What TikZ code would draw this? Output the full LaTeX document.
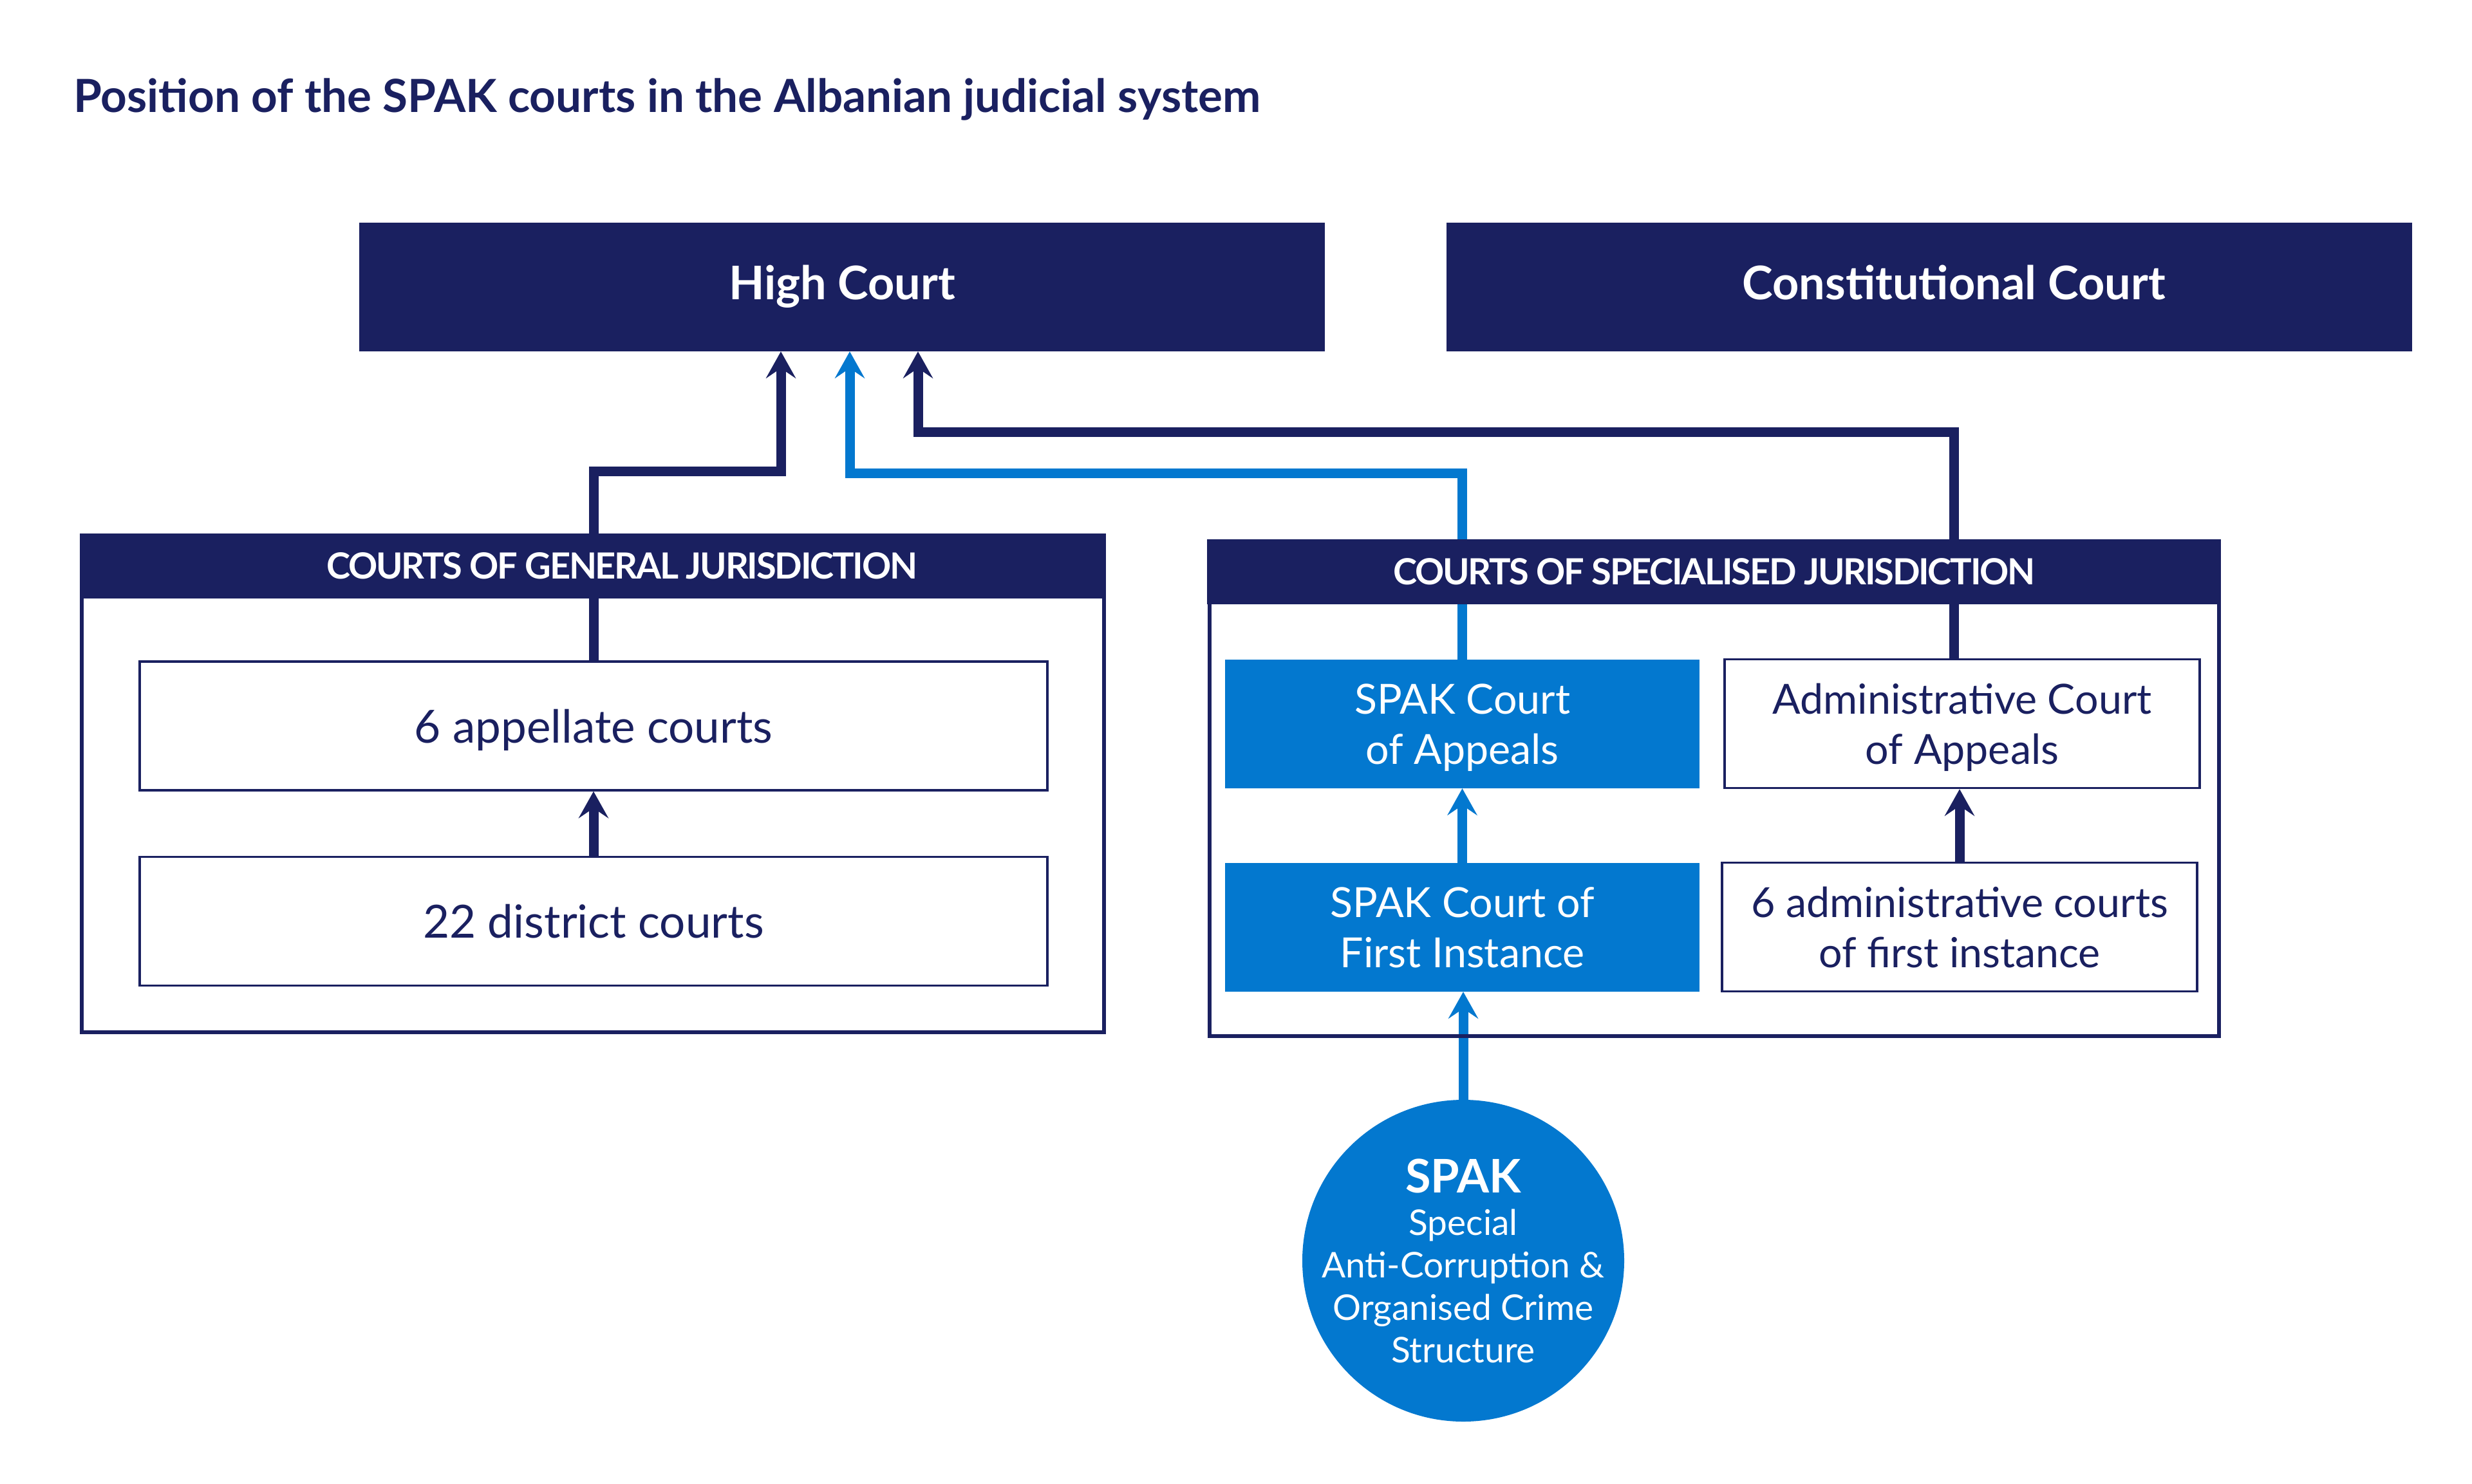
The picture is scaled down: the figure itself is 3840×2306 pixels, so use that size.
\documentclass[tikz,border=0pt]{standalone}
\usepackage{fontspec}
\setmainfont{Lato}
\usetikzlibrary{arrows.meta,backgrounds}
\definecolor{courtnavy}{RGB}{26,32,96}
\definecolor{spakblue}{RGB}{3,120,207}

\begin{document}
\begin{tikzpicture}[x=1pt,y=-1pt,
  topbox/.style={rectangle,fill=courtnavy,text=white,minimum width=1500pt,minimum height=200pt,text height=52pt,text depth=14pt,font=\fontsize{72}{86}\selectfont\bfseries},
  headbox/.style={rectangle,fill=courtnavy,text=white,minimum height=101pt,font=\fontsize{56}{67}\selectfont\bfseries\addfontfeatures{LetterSpace=-4}},
  outerbox/.style={rectangle,draw=courtnavy,line width=6pt},
  courtbox/.style={rectangle,draw=courtnavy,line width=3.5pt,fill=white,text=courtnavy,minimum height=200pt,text depth=0pt,align=center,font=\fontsize{64.5}{78}\selectfont},
  spakbox/.style={rectangle,fill=spakblue,text=white,minimum width=737pt,minimum height=200pt,text depth=0pt,align=center,font=\fontsize{64.5}{78}\selectfont},
  uptip/.style={-{Stealth[length=42pt,width=47pt,inset=16pt,line width=0pt]}},
  navyline/.style={draw=courtnavy,line width=15pt,uptip},
  blueline/.style={draw=spakblue,line width=15pt,uptip}]
  \tikzstyle{every node}+=[inner sep=0pt]

  \begin{scope}[on background layer]
    \fill[white] (0,0) rectangle (3840,2306);
  \end{scope}
  \useasboundingbox (0,0) rectangle (3840,2306);

  \node[anchor=base west,text=courtnavy,font=\fontsize{71}{85}\selectfont\bfseries] (title) at (114,175) {Position of the SPAK courts in the Albanian judicial system};

  \node[topbox] (high) at (1308,446) {High Court};
  \node[topbox] (const) at (2997,446) {\hspace*{76pt}Constitutional Court};

  \node[outerbox,minimum width=1588pt,minimum height=772pt] (genbox) at (921,1218) {};
  \node[headbox,minimum width=1594pt] (genhead) at (921,879.5) {\hspace*{90pt}COURTS OF GENERAL JURISDICTION};
  \node[courtbox,minimum width=1410pt,font=\fontsize{71}{85}\selectfont] (appellate) at (922,1128) {6 appellate courts};
  \node[courtbox,minimum width=1410pt,font=\fontsize{71}{85}\selectfont] (district) at (922,1431.5) {22 district courts};

  \node[outerbox,minimum width=1568pt,minimum height=769pt] (specbox) at (2663,1225.5) {};
  \node[headbox,minimum width=1575pt] (spechead) at (2662.5,888.5) {COURTS OF SPECIALISED JURISDICTION};
  \node[spakbox] (spakapp) at (2271.5,1125) {SPAK Court\\of Appeals};
  \node[spakbox] (spakfirst) at (2271.5,1441) {SPAK Court of\\First Instance};
  \node[courtbox,minimum width=738pt] (adminapp) at (3048,1124.5) {Administrative Court\\of Appeals};
  \node[courtbox,minimum width=738pt] (adminfirst) at (3044,1440.5) {6 administrative courts\\of first instance};

  \node[circle,fill=spakblue,minimum size=500pt] (spak) at (2273,1959) {};
  \node[text=white,align=center,font=\fontsize{55}{66}\selectfont] (spaktext) at (spak) {{\fontsize{72}{86}\selectfont\bfseries SPAK}\\Special\\Anti-Corruption \&\\Organised Crime\\Structure};

  \begin{scope}[on background layer]
    \coordinate (genbend) at (1213,732);
    \coordinate (spakbend) at (1320,735);
    \coordinate (adminbend) at (1426,671);
    \draw[navyline] (appellate.north) |- (genbend) -- (genbend |- high.south);
    \draw[blueline] (spakapp.north) |- (spakbend) -- (spakbend |- high.south);
    \draw[navyline] ([xshift=-13pt]adminapp.north) |- (adminbend) -- (adminbend |- high.south);
    \draw[navyline] (district.north) -- (appellate.south);
    \draw[blueline] (spakfirst.north) -- (spakapp.south);
    \draw[navyline] (adminfirst.north) -- (adminfirst.north |- adminapp.south);
    \draw[blueline] (spak.north) -- (spak.north |- spakfirst.south);
  \end{scope}
\end{tikzpicture}
\end{document}
